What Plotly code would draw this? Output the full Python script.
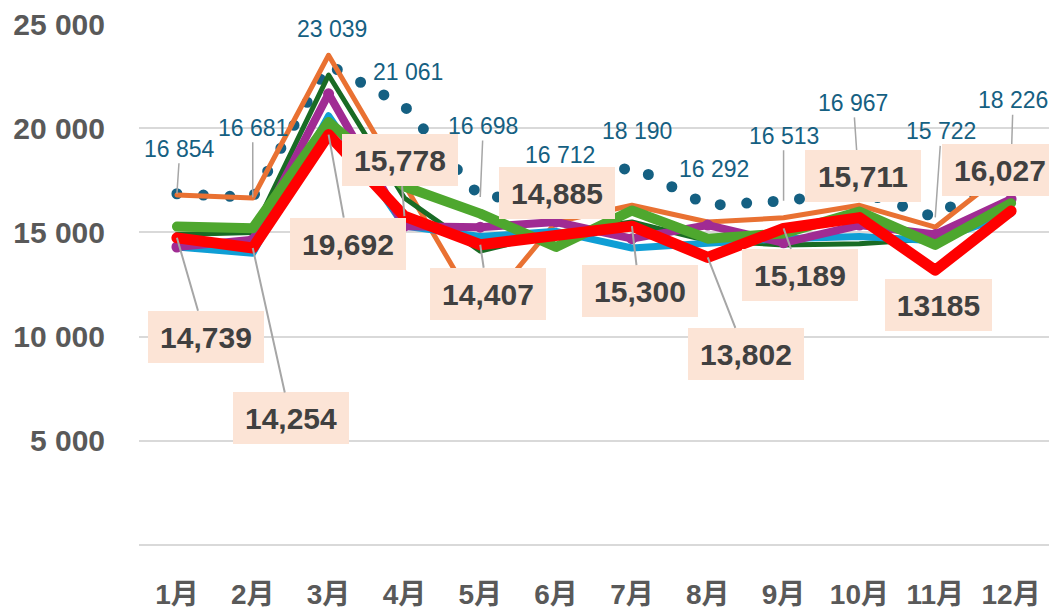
import plotly.graph_objects as go

months = ['1月', '2月', '3月', '4月', '5月', '6月', '7月', '8月', '9月', '10月', '11月', '12月']

series_dotted = [16854, 16681, 23039, 21061, 16698, 16712, 18190, 16292, 16513, 16967, 15722, 18226]
series_orange = [16800, 16650, 23500, 17300, 11100, 15500, 16300, 15500, 15700, 16300, 15250, 18100]
series_dkgreen = [14900, 15000, 22550, 16650, 14100, 15000, 15500, 14600, 14400, 14450, 14700, 16200]
series_blue = [14300, 14000, 20600, 15300, 14800, 15050, 14250, 14500, 14700, 14800, 14600, 15900]
series_purple = [14300, 14650, 21650, 15300, 15250, 15500, 14700, 15350, 14500, 15350, 14900, 16600]
series_ltgreen = [15280, 15200, 20300, 17200, 15900, 14300, 16050, 14700, 14950, 16000, 14400, 16400]
series_red = [14739, 14254, 19692, 15778, 14407, 14885, 15300, 13802, 15189, 15711, 13185, 16027]

red_labels = ['14,739', '14,254', '19,692', '15,778', '14,407', '14,885',
              '15,300', '13,802', '15,189', '15,711', '13185', '16,027']
dotted_labels = [f"{v:,}".replace(',', ' ') for v in series_dotted]

y_tickvals = [0, 5000, 10000, 15000, 20000, 25000]
y_ticktext = ['', '5 000', '10 000', '15 000', '20 000', '25 000']

# label offsets (pixels, from point to label centre)
red_off_x = [28.6, 37.8, 19.9, -4.4, 7.3, 1.4, 7.6, 37.8, 16.9, 3.1, 3.3, -11]
red_off_y = [99, 170.5, 109, -56, 49, -42, 65, 96.5, 46.5, -41.5, 34.6, -41]
red_leader = [True, True, True, True, True, False, True, True, True, False, False, False]
dot_off_x = [3, 0, 3, 4, 3, 4, 5, 6, 0, -6, 6, 2]
dot_off_y = [-45, -69.5, -36, -34, -71, -42, -35, -36.6, -65, -88.5, -86, -65]
dot_leader = [True, True, False, False, True, False, False, False, True, True, True, True]

FONT = "Liberation Sans, Arial, Noto Sans CJK JP, sans-serif"

fig = go.Figure()

fig.add_trace(go.Scatter(x=months, y=series_dotted, mode='lines',
                         line=dict(color='#156082', width=11, dash='11px,15.5px')))
fig.add_trace(go.Scatter(x=months, y=series_orange, mode='lines',
                         line=dict(color='#E97132', width=5)))
fig.add_trace(go.Scatter(x=months, y=series_dkgreen, mode='lines',
                         line=dict(color='#196B24', width=5)))
fig.add_trace(go.Scatter(x=months, y=series_blue, mode='lines',
                         line=dict(color='#0F9ED5', width=7)))
fig.add_trace(go.Scatter(x=months, y=series_purple, mode='lines+markers',
                         line=dict(color='#A02B93', width=8),
                         marker=dict(color='#A02B93', size=11)))
fig.add_trace(go.Scatter(x=months, y=series_ltgreen, mode='lines',
                         line=dict(color='#4EA72E', width=10)))
fig.add_trace(go.Scatter(x=months, y=series_red, mode='lines',
                         line=dict(color='#FF0000', width=11)))

annotations = []
for i, m in enumerate(months):
    annotations.append(dict(
        x=m, y=series_dotted[i], xref='x', yref='y',
        text=dotted_labels[i], showarrow=True, arrowhead=0,
        arrowwidth=1.5,
        arrowcolor='#A6A6A6' if dot_leader[i] else 'rgba(0,0,0,0)',
        ax=dot_off_x[i], ay=dot_off_y[i],
        font=dict(family=FONT, size=23, color='#156082'),
    ))
for i, m in enumerate(months):
    annotations.append(dict(
        x=m, y=series_red[i], xref='x', yref='y',
        text='<b>' + red_labels[i] + '</b>', showarrow=True, arrowhead=0,
        arrowwidth=2,
        arrowcolor='#A6A6A6' if red_leader[i] else 'rgba(0,0,0,0)',
        ax=red_off_x[i], ay=red_off_y[i],
        bgcolor='#FCE4D6', borderpad=0, borderwidth=0,
        width=107 if ',' not in red_labels[i] else 116, height=52,
        font=dict(family=FONT, size=30, color='#404040'),
    ))

fig.update_layout(
    width=1049, height=610,
    margin=dict(l=139, r=0, t=24, b=65),
    paper_bgcolor='white', plot_bgcolor='white',
    showlegend=False,
    annotations=annotations,
    font=dict(family=FONT),
)
fig.update_xaxes(
    type='category', range=[-0.5, 11.5], showgrid=False, zeroline=False,
    showline=False, ticks='',
    tickfont=dict(family=FONT, size=28, color='#595959', weight='bold'),
    ticklabelstandoff=30,
)
fig.update_yaxes(
    range=[0, 25000], tickvals=y_tickvals, ticktext=y_ticktext,
    showgrid=True, gridcolor='#D9D9D9', gridwidth=2,
    zeroline=True, zerolinecolor='#D9D9D9', zerolinewidth=2,
    showline=False, ticks='',
    tickfont=dict(family=FONT, size=30, color='#595959', weight='bold'),
    ticklabelstandoff=33,
)

post = """
document.body.style.margin = '0';
document.body.style.padding = '0';
document.body.style.overflow = 'hidden';
var gd = document.getElementById('{plot_id}');
var traces = gd.querySelectorAll('.scatterlayer .trace');
traces.forEach(function(t, i){
  var p = t.querySelector('path.js-line');
  if(p){
    p.style.strokeLinejoin = 'round';
    p.style.strokeLinecap = 'round';
    if(i === 0){ p.style.strokeDasharray = '0 26.5'; }
  }
});
"""

fig.write_html("out.html", post_script=post, config={'displayModeBar': False})
